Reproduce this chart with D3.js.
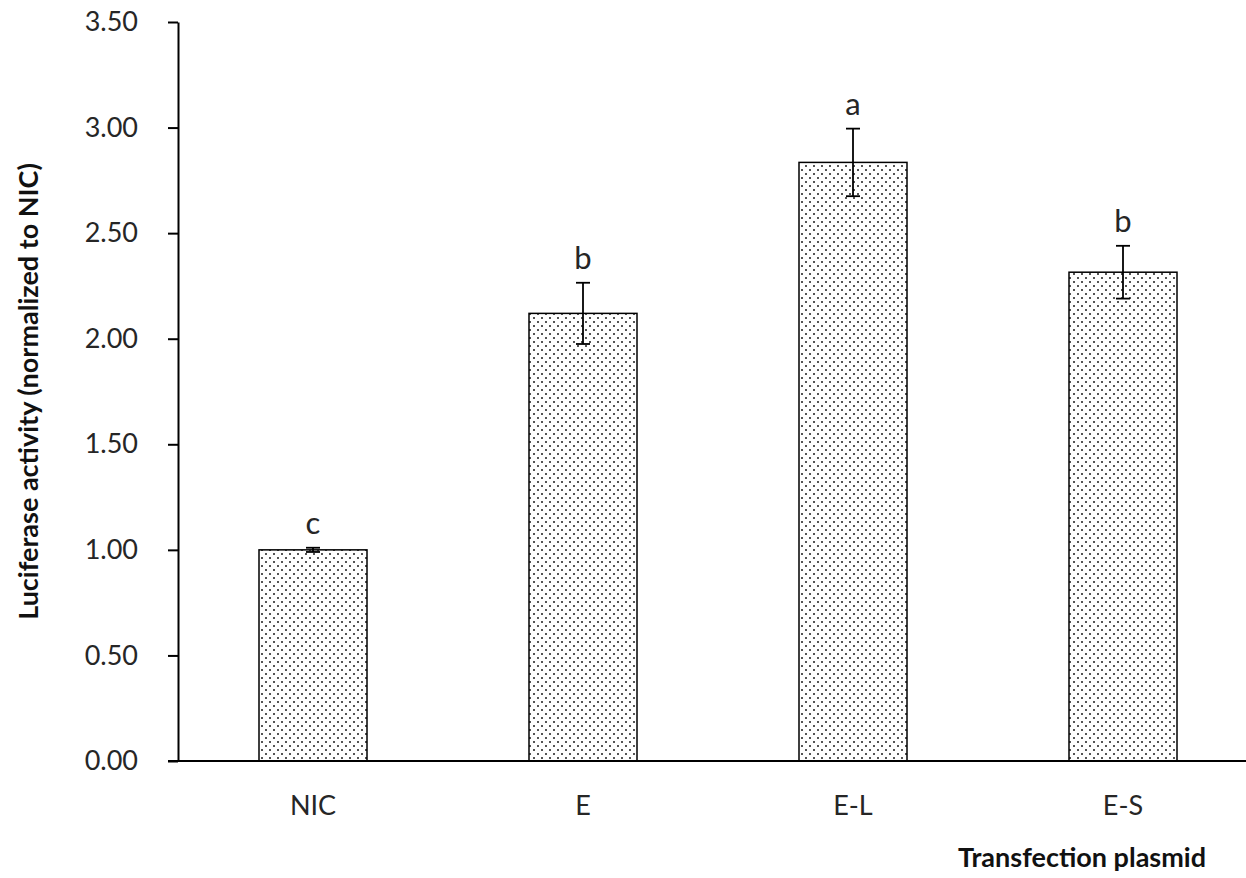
<!DOCTYPE html>
<html>
<head>
<meta charset="utf-8">
<script src="https://cdn.jsdelivr.net/npm/d3@7"></script>
<style>
  body { margin: 0; background: #fff; }
  svg { display: block; font-family: Lato, "Open Sans", sans-serif; }
</style>
</head>
<body>
<script>
// chart data
let categories = ["NIC", "E", "E-L", "E-S"];
let means = [1.00, 2.12, 2.835, 2.315];
let errors = [0.01, 0.145, 0.16, 0.125];
let letters = ["c", "b", "a", "b"];
let yTicks = [0, 0.5, 1, 1.5, 2, 2.5, 3, 3.5];

let width = 1246, height = 878;
let plotLeft = 178, plotTop = 22, plotBottom = 761, plotRight = 1258;

let svg = d3.select("body").append("svg")
    .attr("width", width)
    .attr("height", height);

// dotted fill like the spreadsheet pattern
let pat = svg.append("defs").append("pattern")
    .attr("id", "dots")
    .attr("patternUnits", "userSpaceOnUse")
    .attr("width", 8)
    .attr("height", 8);
pat.append("rect").attr("width", 8).attr("height", 8).attr("fill", "#fff");
pat.append("rect").attr("x", 1).attr("y", 1).attr("width", 2).attr("height", 2).attr("fill", "#555");
pat.append("rect").attr("x", 5).attr("y", 5).attr("width", 2).attr("height", 2).attr("fill", "#555");

let x = d3.scaleBand()
    .domain(categories)
    .range([plotLeft, plotRight])
    .paddingInner(0.6)
    .paddingOuter(0.3);

let y = d3.scaleLinear()
    .domain([0, 3.5])
    .range([plotBottom, plotTop]);

// y axis
let yAxis = svg.append("g")
    .attr("transform", "translate(" + plotLeft + ",0)")
    .call(d3.axisLeft(y).tickValues(yTicks).tickFormat(d3.format(".2f")).tickSize(10).tickSizeOuter(0));
yAxis.select(".domain").attr("stroke", "#000").attr("stroke-width", 2);
yAxis.selectAll(".tick line").attr("stroke", "#000").attr("stroke-width", 2);
yAxis.selectAll(".tick text")
    .attr("x", -40)
    .attr("font-size", 27)
    .attr("fill", "#262626")
    .attr("font-family", "Lato, 'Open Sans', sans-serif");

// bars
svg.selectAll(".bar")
    .data(categories)
    .enter().append("rect")
    .attr("class", "bar")
    .attr("x", d => x(d))
    .attr("y", (d, i) => y(means[i]))
    .attr("width", x.bandwidth())
    .attr("height", (d, i) => plotBottom - y(means[i]))
    .attr("fill", "url(#dots)")
    .attr("stroke", "#000")
    .attr("stroke-width", 1.5);

// error bars
let eb = svg.selectAll(".err")
    .data(categories)
    .enter().append("g")
    .attr("class", "err")
    .attr("stroke", "#000")
    .attr("stroke-width", 1.8);
eb.append("line")
    .attr("x1", d => x(d) + x.bandwidth() / 2)
    .attr("x2", d => x(d) + x.bandwidth() / 2)
    .attr("y1", (d, i) => y(means[i] + errors[i]))
    .attr("y2", (d, i) => y(means[i] - errors[i]));
[1, -1].forEach(s => {
    eb.append("line")
        .attr("x1", d => x(d) + x.bandwidth() / 2 - 7)
        .attr("x2", d => x(d) + x.bandwidth() / 2 + 7)
        .attr("y1", (d, i) => y(means[i] + s * errors[i]))
        .attr("y2", (d, i) => y(means[i] + s * errors[i]));
});

// significance letters
svg.selectAll(".letter")
    .data(categories)
    .enter().append("text")
    .attr("class", "letter")
    .attr("x", d => x(d) + x.bandwidth() / 2)
    .attr("y", (d, i) => y(means[i] + errors[i]) - 14)
    .attr("text-anchor", "middle")
    .attr("font-size", 31)
    .attr("fill", "#262626")
    .text((d, i) => letters[i]);

// x axis baseline
svg.append("line")
    .attr("x1", plotLeft - 10)
    .attr("x2", width)
    .attr("y1", plotBottom)
    .attr("y2", plotBottom)
    .attr("stroke", "#000")
    .attr("stroke-width", 2);

svg.selectAll(".xlab")
    .data(categories)
    .enter().append("text")
    .attr("class", "xlab")
    .attr("x", d => x(d) + x.bandwidth() / 2)
    .attr("y", 815)
    .attr("text-anchor", "middle")
    .attr("font-size", 27)
    .attr("fill", "#262626")
    .text(d => d);

// axis titles
svg.append("text")
    .attr("x", 1206)
    .attr("y", 867)
    .attr("text-anchor", "end")
    .attr("font-size", 27)
    .attr("font-weight", "bold")
    .attr("fill", "#111")
    .text("Transfection plasmid");

svg.append("text")
    .attr("transform", "translate(38," + ((plotTop + plotBottom) / 2) + ") rotate(-90)")
    .attr("text-anchor", "middle")
    .attr("font-size", 27)
    .attr("font-weight", "bold")
    .attr("fill", "#111")
    .text("Luciferase activity (normalized to NIC)");
</script>
</body>
</html>
